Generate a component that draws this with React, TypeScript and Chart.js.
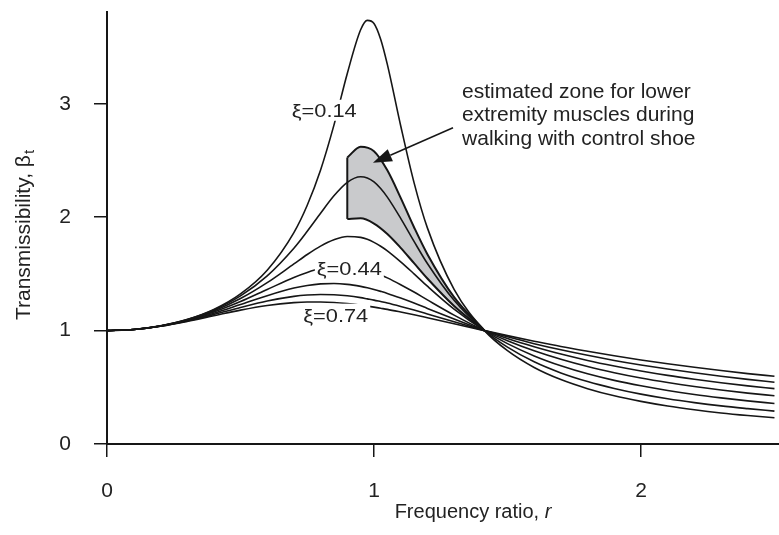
import React, { useEffect, useRef } from "react";
import { Chart, registerables } from "chart.js";

Chart.register(...registerables);

const FONT = "'Liberation Sans', Arial, Helvetica, sans-serif";
const INK = "#161616";
const TEXT = "#222222";

// Frequency ratio r (x)
const R = [0, 0.1, 0.2, 0.3, 0.4, 0.5, 0.6, 0.7, 0.75, 0.8, 0.85, 0.9, 0.95, 0.975, 1.0, 1.025, 1.05, 1.1, 1.15, 1.2, 1.3, 1.414, 1.5, 1.6, 1.7, 1.8, 1.9, 2.0, 2.1, 2.2, 2.3, 2.4, 2.5];

// Transmissibility curves
const T_014 = [1, 1.010, 1.042, 1.098, 1.187, 1.324, 1.533, 1.865, 2.106, 2.417, 2.812, 3.268, 3.653, 3.736, 3.709, 3.570, 3.348, 2.807, 2.305, 1.906, 1.364, 1.0, 0.823, 0.675, 0.568, 0.488, 0.425, 0.376, 0.335, 0.302, 0.274, 0.251, 0.231];
const T_024 = [1, 1.010, 1.041, 1.097, 1.182, 1.306, 1.483, 1.727, 1.876, 2.035, 2.189, 2.308, 2.357, 2.346, 2.311, 2.253, 2.177, 1.990, 1.787, 1.592, 1.267, 1.0, 0.854, 0.725, 0.627, 0.551, 0.490, 0.440, 0.399, 0.365, 0.336, 0.312, 0.290];
const T_034 = [1, 1.010, 1.041, 1.094, 1.174, 1.283, 1.423, 1.588, 1.671, 1.745, 1.801, 1.830, 1.822, 1.805, 1.778, 1.744, 1.704, 1.607, 1.501, 1.392, 1.190, 1.0, 0.885, 0.777, 0.690, 0.619, 0.561, 0.513, 0.472, 0.437, 0.407, 0.380, 0.357];
const T_044 = [1, 1.010, 1.040, 1.092, 1.164, 1.256, 1.363, 1.469, 1.513, 1.547, 1.565, 1.566, 1.549, 1.533, 1.514, 1.491, 1.465, 1.405, 1.340, 1.271, 1.137, 1.0, 0.911, 0.822, 0.747, 0.683, 0.629, 0.582, 0.542, 0.507, 0.476, 0.449, 0.425];
const T_054 = [1, 1.010, 1.040, 1.088, 1.153, 1.230, 1.308, 1.375, 1.398, 1.412, 1.416, 1.408, 1.390, 1.378, 1.363, 1.346, 1.328, 1.287, 1.243, 1.196, 1.102, 1.0, 0.930, 0.858, 0.793, 0.737, 0.688, 0.644, 0.605, 0.571, 0.540, 0.513, 0.488];
const T_064 = [1, 1.010, 1.039, 1.085, 1.142, 1.204, 1.261, 1.302, 1.314, 1.319, 1.316, 1.307, 1.291, 1.280, 1.269, 1.256, 1.243, 1.213, 1.181, 1.147, 1.078, 1.0, 0.945, 0.885, 0.831, 0.782, 0.737, 0.697, 0.661, 0.628, 0.598, 0.570, 0.545];
const T_074 = [1, 1.010, 1.038, 1.081, 1.131, 1.181, 1.222, 1.247, 1.252, 1.252, 1.248, 1.238, 1.224, 1.216, 1.207, 1.197, 1.187, 1.164, 1.140, 1.114, 1.061, 1.0, 0.956, 0.907, 0.860, 0.818, 0.778, 0.741, 0.708, 0.677, 0.648, 0.621, 0.597];
const CURVES = [T_014, T_024, T_034, T_044, T_054, T_064, T_074];

// Estimated zone (shaded)
const ZONE_R = [0.9, 0.95, 1.0, 1.05, 1.1, 1.15, 1.2, 1.3, 1.414];
const ZONE_TOP = [2.527, 2.621, 2.582, 2.414, 2.171, 1.912, 1.674, 1.295, 1.0];
const ZONE_BOTTOM = [1.985, 1.990, 1.944, 1.852, 1.730, 1.595, 1.460, 1.218, 1.0];

// Axes
const X_TICKS = [0, 1, 2];
const Y_TICKS = [0, 1, 2, 3];
const X_MAX = 2.517;
const Y_MAX = 3.81;

// Annotations (data units)
const CURVE_LABELS = [
  { text: "ξ=0.14", r: 0.692, v: 2.886, boxTop: 17 },
  { text: "ξ=0.44", r: 0.786, v: 1.492, boxTop: 17 },
  { text: "ξ=0.74", r: 0.735, v: 1.079, boxTop: 18 },
];
const LABEL_WIDTH = 65;
const NOTE_LINES = ["estimated zone for lower", "extremity muscles during", "walking with control shoe"];
const NOTE_R = 1.33;
const NOTE_V = [3.051, 2.845, 2.633];
const ARROW_FROM = { r: 1.296, v: 2.789 };
const ARROW_TO = { r: 0.996, v: 2.48 };

const pts = (xs: number[], ys: number[]) => xs.map((x, i) => ({ x, y: ys[i] }));

const overlay = {
  id: "overlay",
  afterDatasetsDraw(chart: any) {
    const { ctx } = chart;
    const xs = chart.scales.x;
    const ys = chart.scales.y;
    ctx.save();
    ctx.textAlign = "left";
    ctx.textBaseline = "alphabetic";
    ctx.font = `19px ${FONT}`;
    for (const l of CURVE_LABELS) {
      const px = xs.getPixelForValue(l.r);
      const py = ys.getPixelForValue(l.v);
      const w = ctx.measureText(l.text).width;
      const k = LABEL_WIDTH / w;
      ctx.fillStyle = "#ffffff";
      ctx.fillRect(px - 2, py - l.boxTop, LABEL_WIDTH + 4, l.boxTop + 4);
      ctx.save();
      ctx.translate(px, py);
      ctx.scale(k, 1);
      ctx.fillStyle = TEXT;
      ctx.fillText(l.text, 0, 0);
      ctx.restore();
    }
    ctx.font = `21px ${FONT}`;
    ctx.fillStyle = TEXT;
    NOTE_LINES.forEach((t, i) => {
      ctx.fillText(t, xs.getPixelForValue(NOTE_R), ys.getPixelForValue(NOTE_V[i]));
    });
    // arrow
    const x1 = xs.getPixelForValue(ARROW_FROM.r);
    const y1 = ys.getPixelForValue(ARROW_FROM.v);
    const x2 = xs.getPixelForValue(ARROW_TO.r);
    const y2 = ys.getPixelForValue(ARROW_TO.v);
    const a = Math.atan2(y2 - y1, x2 - x1);
    const L = 19;
    const H = 6.5;
    const bx = x2 - L * Math.cos(a);
    const by = y2 - L * Math.sin(a);
    ctx.strokeStyle = INK;
    ctx.fillStyle = INK;
    ctx.lineWidth = 1.5;
    ctx.beginPath();
    ctx.moveTo(x1, y1);
    ctx.lineTo(bx, by);
    ctx.stroke();
    ctx.beginPath();
    ctx.moveTo(x2, y2);
    ctx.lineTo(bx - H * Math.sin(a), by + H * Math.cos(a));
    ctx.lineTo(bx + H * Math.sin(a), by - H * Math.cos(a));
    ctx.closePath();
    ctx.fill();
    ctx.restore();
  },
  afterDraw(chart: any) {
    const { ctx } = chart;
    ctx.save();
    ctx.fillStyle = TEXT;
    ctx.textBaseline = "alphabetic";
    ctx.textAlign = "left";
    // x title
    ctx.font = `20px ${FONT}`;
    const base = "Frequency ratio, ";
    const bw = ctx.measureText(base).width;
    ctx.font = `italic 20px ${FONT}`;
    const iw = ctx.measureText("r").width;
    const sx = 473 - (bw + iw) / 2;
    ctx.font = `20px ${FONT}`;
    ctx.fillText(base, sx, 518);
    ctx.font = `italic 20px ${FONT}`;
    ctx.fillText("r", sx + bw, 518);
    // y title
    ctx.translate(30, 235);
    ctx.rotate(-Math.PI / 2);
    const main = "Transmissibility, β";
    ctx.font = `21px ${FONT}`;
    const mw = ctx.measureText(main).width;
    ctx.font = `15px ${FONT}`;
    const sw = ctx.measureText("t").width;
    const st = -(mw + sw + 1) / 2;
    ctx.font = `21px ${FONT}`;
    ctx.fillText(main, st, 0);
    ctx.font = `15px ${FONT}`;
    ctx.fillText("t", st + mw + 1, 4);
    ctx.restore();
  },
};

export default function App() {
  const ref = useRef<HTMLCanvasElement | null>(null);
  useEffect(() => {
    if (!ref.current) return;
    const curveSets = CURVES.map((c) => ({
      data: pts(R, c),
      borderColor: INK,
      borderWidth: 1.6,
      pointRadius: 0,
      showLine: true,
      fill: false,
      cubicInterpolationMode: "monotone" as const,
    }));
    const zoneTop = {
      data: pts(ZONE_R, ZONE_TOP),
      borderColor: INK,
      borderWidth: 2,
      pointRadius: 0,
      showLine: true,
      fill: "-1",
      backgroundColor: "#c9cacc",
      cubicInterpolationMode: "monotone" as const,
    };
    const zoneBottom = {
      data: pts(ZONE_R, ZONE_BOTTOM),
      borderColor: INK,
      borderWidth: 2,
      pointRadius: 0,
      showLine: true,
      fill: false,
      cubicInterpolationMode: "monotone" as const,
    };
    const zoneEdge = {
      data: [
        { x: ZONE_R[0], y: ZONE_BOTTOM[0] },
        { x: ZONE_R[0], y: ZONE_TOP[0] },
      ],
      borderColor: INK,
      borderWidth: 2,
      pointRadius: 0,
      showLine: true,
      fill: false,
    };
    const tickFont = { family: FONT, size: 21 };
    const chart = new Chart(ref.current, {
      type: "scatter",
      data: { datasets: [...curveSets, zoneEdge, zoneBottom, zoneTop] as any },
      plugins: [overlay],
      options: {
        animation: false,
        responsive: false,
        events: [],
        layout: { padding: { top: 12, left: 0, right: 0, bottom: 0 } },
        plugins: { legend: { display: false }, tooltip: { enabled: false } },
        scales: {
          x: {
            type: "linear",
            min: 0,
            max: X_MAX,
            afterBuildTicks: (s: any) => {
              s.ticks = X_TICKS.map((v) => ({ value: v }));
            },
            afterFit: (s: any) => {
              s.height = 91;
              s.paddingLeft = 0;
              s.paddingRight = 0;
            },
            ticks: { font: tickFont, color: TEXT, padding: 22, includeBounds: false },
            grid: { drawOnChartArea: false, drawTicks: true, tickLength: 13, color: INK, lineWidth: 1.5 },
            border: { display: true, color: INK, width: 2 },
          },
          y: {
            type: "linear",
            min: 0,
            max: Y_MAX,
            afterBuildTicks: (s: any) => {
              s.ticks = Y_TICKS.map((v) => ({ value: v }));
            },
            afterFit: (s: any) => {
              s.width = 107;
              s.paddingTop = 0;
              s.paddingBottom = 0;
            },
            ticks: { font: tickFont, color: TEXT, padding: 23, includeBounds: false },
            grid: { drawOnChartArea: false, drawTicks: true, tickLength: 13, color: INK, lineWidth: 1.5 },
            border: { display: true, color: INK, width: 2 },
          },
        },
      } as any,
    });
    return () => chart.destroy();
  }, []);
  return (
    <div style={{ position: "absolute", left: 0, top: 0, width: 779, height: 535, background: "#fff" }}>
      <canvas ref={ref} width={779} height={535} style={{ display: "block" }} />
    </div>
  );
}
